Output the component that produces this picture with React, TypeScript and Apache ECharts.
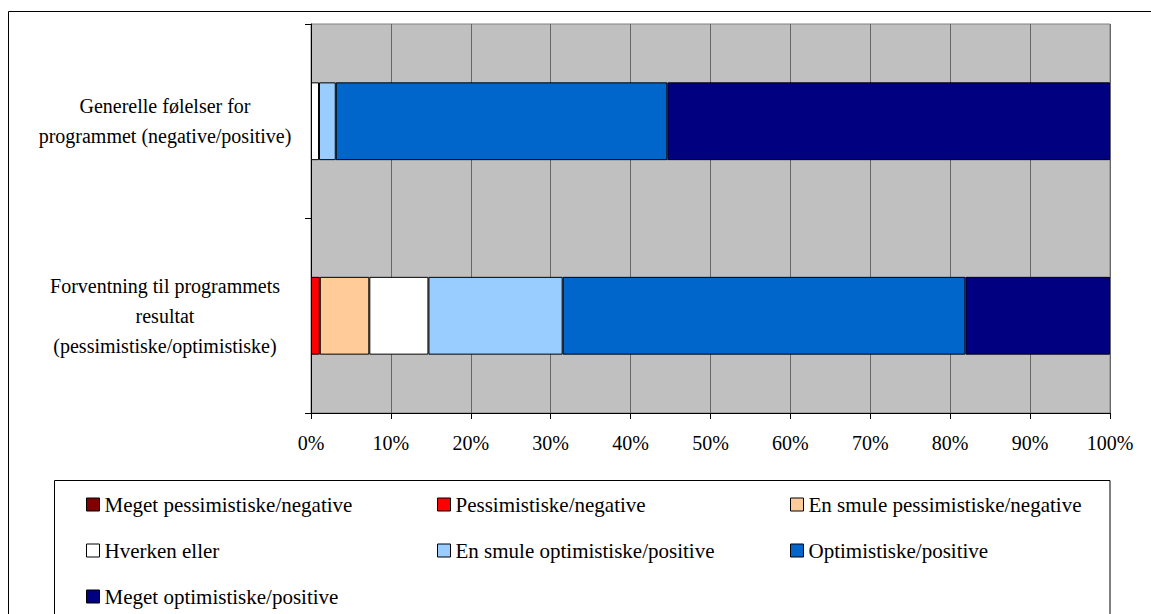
import React, { useEffect, useRef } from "react";
import * as echarts from "echarts";

const categories = [
  "Forventning til programmets\nresultat\n(pessimistiske/optimistiske)",
  "Generelle følelser for\nprogrammet (negative/positive)",
];

const seriesNames = [
  "Meget pessimistiske/negative",
  "Pessimistiske/negative",
  "En smule pessimistiske/negative",
  "Hverken eller",
  "En smule optimistiske/positive",
  "Optimistiske/positive",
  "Meget optimistiske/positive",
];

const seriesColors = ["#800000", "#ff0000", "#ffcc99", "#ffffff", "#99ccff", "#0066cc", "#000080"];

// values in %, order: [Forventning, Generelle]
const megetPessimistiske = [0, 0];
const pessimistiske = [1.1, 0];
const smulePessimistiske = [6.2, 0];
const hverkenEller = [7.4, 1.0];
const smuleOptimistiske = [16.8, 2.1];
const optimistiske = [50.4, 41.5];
const megetOptimistiske = [18.1, 55.4];

const seriesValues = [
  megetPessimistiske,
  pessimistiske,
  smulePessimistiske,
  hverkenEller,
  smuleOptimistiske,
  optimistiske,
  megetOptimistiske,
];

const xTicks = { min: 0, max: 100, interval: 10 };

// legend grid: [column, row] for each series
const legendCells = [
  [0, 0],
  [1, 0],
  [2, 0],
  [0, 1],
  [1, 1],
  [2, 1],
  [0, 2],
];
const legendLefts = [86, 437, 790];
const legendTops = [494, 540, 586];

const FONT = "Liberation Serif";

export default function App() {
  const ref = useRef<HTMLDivElement>(null);
  useEffect(() => {
    if (!ref.current) return;
    const chart = echarts.init(ref.current, undefined, { renderer: "svg" });
    chart.setOption({
      animation: false,
      backgroundColor: "#ffffff",
      textStyle: { fontFamily: FONT },
      grid: {
        left: 311,
        top: 24,
        right: 41,
        bottom: 201,
        show: true,
        backgroundColor: "#c0c0c0",
        borderColor: "#808080",
        borderWidth: 1,
      },
      xAxis: {
        type: "value",
        min: xTicks.min,
        max: xTicks.max,
        interval: xTicks.interval,
        axisLine: { show: true, lineStyle: { color: "#000", width: 1 } },
        axisTick: { show: true, inside: false, length: 6, lineStyle: { color: "#000" } },
        splitLine: { show: true, lineStyle: { color: "#666666", width: 1 } },
        axisLabel: {
          formatter: "{value}%",
          color: "#000",
          fontSize: 20,
          fontFamily: FONT,
          margin: 20,
        },
      },
      yAxis: {
        type: "category",
        data: categories,
        axisLine: { show: true, lineStyle: { color: "#000", width: 1 } },
        axisTick: { show: true, length: 6, lineStyle: { color: "#000" } },
        splitLine: { show: false },
        axisLabel: {
          color: "#000",
          fontSize: 20,
          fontFamily: FONT,
          align: "center",
          margin: 146,
          lineHeight: 30,
        },
      },
      legend: seriesNames.map((name, i) => ({
        data: [name],
        orient: "horizontal",
        left: legendLefts[legendCells[i][0]],
        top: legendTops[legendCells[i][1]],
        padding: 0,
        itemWidth: 13,
        itemHeight: 13,
        icon: "rect",
        selectedMode: false,
        textStyle: { fontSize: 21, color: "#000", fontFamily: FONT },
        itemStyle: { borderColor: "#000", borderWidth: 1 },
      })),
      graphic: [
        {
          type: "rect",
          z: -10,
          silent: true,
          shape: { x: 8.5, y: 11.5, width: 1300, height: 800 },
          style: { fill: "none", stroke: "#000", lineWidth: 1 },
        },
        {
          type: "rect",
          z: -10,
          silent: true,
          shape: { x: 54.5, y: 480.5, width: 1055.5, height: 300 },
          style: { fill: "none", stroke: "#000", lineWidth: 1 },
        },
      ],
      series: seriesNames.map((name, i) => ({
        name,
        type: "bar",
        stack: "total",
        barWidth: "40%",
        itemStyle: { color: seriesColors[i], borderColor: "#000", borderWidth: 1 },
        data: seriesValues[i].map((v) => (v === 0 ? "-" : v)),
      })),
    });
    return () => chart.dispose();
  }, []);
  return (
    <div
      ref={ref}
      style={{ position: "fixed", left: 0, top: 0, width: 1151, height: 614 }}
    />
  );
}
